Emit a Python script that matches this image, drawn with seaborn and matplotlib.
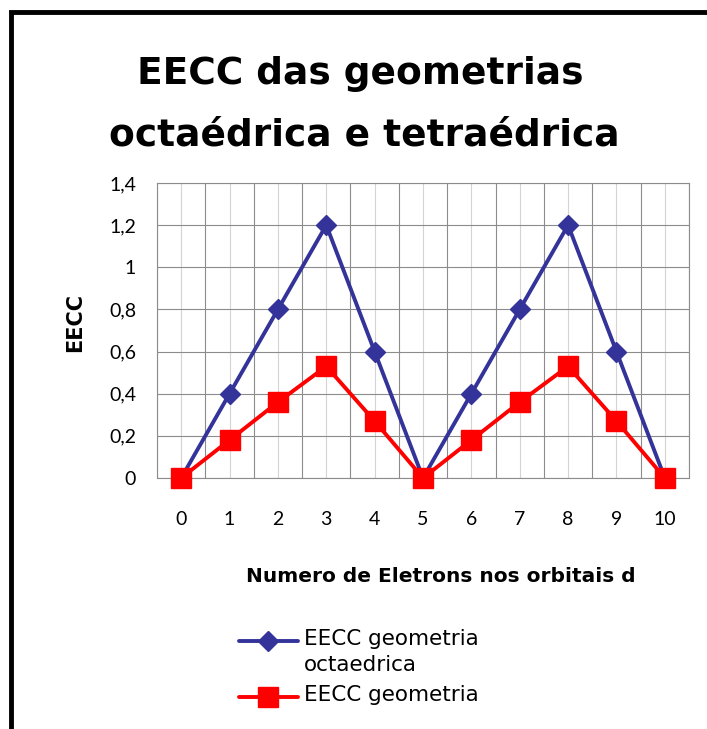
import matplotlib
matplotlib.use("Agg")
import matplotlib.pyplot as plt
from matplotlib.lines import Line2D
from matplotlib.patches import Rectangle
import seaborn as sns
import pandas as pd

# ---- data ----
electrons = [0, 1, 2, 3, 4, 5, 6, 7, 8, 9, 10]
eecc_octa = [0, 0.4, 0.8, 1.2, 0.6, 0, 0.4, 0.8, 1.2, 0.6, 0]
eecc_tetra = [0, 0.18, 0.36, 0.53, 0.27, 0, 0.18, 0.36, 0.53, 0.27, 0]
x_ticklabels = ["0", "1", "2", "3", "4", "5", "6", "7", "8", "9", "10"]
y_ticks = [0, 0.2, 0.4, 0.6, 0.8, 1.0, 1.2, 1.4]
y_ticklabels = ["0", "0,2", "0,4", "0,6", "0,8", "1", "1,2", "1,4"]
# visible legend labels (the second one is clipped by the chart edge in the original)
legend_labels = ["EECC geometria\noctaedrica", "EECC geometria"]

sns.set_theme(style="white")
plt.rcParams["font.family"] = ["Lato", "DejaVu Sans"]
plt.rcParams["text.color"] = "black"

W, H = 707, 729
DPI = 100
fig = plt.figure(figsize=(W / DPI, H / DPI), dpi=DPI)

def fx(px):
    return px / W

def fy(py):
    return 1 - py / H

ax = fig.add_axes([fx(157), fy(478), fx(689) - fx(157), fy(183) - fy(478)])

df = pd.DataFrame({"x": electrons, "octa": eecc_octa, "tetra": eecc_tetra})
blue = "#333399"
red = "#FF0000"

sns.lineplot(data=df, x="x", y="octa", ax=ax, color=blue, lw=2.8,
             marker="D", ms=10.5, mec=blue, mfc=blue, mew=1, clip_on=False, zorder=4)
sns.lineplot(data=df, x="x", y="tetra", ax=ax, color=red, lw=2.8,
             marker="s", ms=14, mec=red, mfc=red, mew=1, clip_on=False, zorder=5)

ax.set_xlim(-0.5, 10.5)
ax.set_ylim(0, 1.4)
ax.set_xticks(electrons)
ax.set_xticklabels(x_ticklabels)
ax.set_xticks([i - 0.5 for i in range(12)], minor=True)
ax.set_yticks(y_ticks)
ax.set_yticklabels(y_ticklabels)
ax.tick_params(axis="both", which="both", length=0, labelsize=14,
               colors="black", labelcolor="black")
ax.tick_params(axis="y", pad=15)
ax.tick_params(axis="x", pad=24)

ax.grid(False)
ax.xaxis.grid(True, which="major", color="#d4d4d4", lw=0.8)
ax.xaxis.grid(True, which="minor", color="#8c8c8c", lw=0.8)
ax.yaxis.grid(True, which="major", color="#8c8c8c", lw=0.8)
ax.set_axisbelow(True)
for s in ax.spines.values():
    s.set_color("#8c8c8c")
    s.set_linewidth(0.8)
ax.set_xlabel("")
ax.set_ylabel("")

bold_font = ["DejaVu Sans"]
# titles / labels
fig.text(fx(360), fy(74), "EECC das geometrias", ha="center", va="center",
         fontsize=27, fontweight="bold", family=bold_font, color="black")
fig.text(fx(364), fy(136), "octaédrica e tetraédrica", ha="center", va="center",
         fontsize=27, fontweight="bold", family=bold_font, color="black")
fig.text(fx(441), fy(577), "Numero de Eletrons nos orbitais d", ha="center",
         va="center", fontsize=14.5, fontweight="bold", family=bold_font, color="black")
fig.text(fx(75), fy(322), "EECC", ha="center", va="center", rotation=90,
         fontsize=15, fontweight="bold", family=bold_font, color="black")

# legend (drawn manually so the handle aligns with the first line of each label)
leg_y = [641, 697]
for yy, c, mk, ms, name in zip(leg_y, [blue, red], ["D", "s"], [10.5, 14], legend_labels):
    fig.add_artist(Line2D([fx(239), fx(298)], [fy(yy), fy(yy)], color=c, lw=2.8,
                          transform=fig.transFigure))
    fig.add_artist(Line2D([fx(268)], [fy(yy)], color=c, marker=mk, ms=ms, mfc=c,
                          mec=c, mew=1, transform=fig.transFigure))
    fig.text(fx(304), fy(yy - 12), name, ha="left", va="top", fontsize=15.5,
             linespacing=1.35, family=["DejaVu Sans"], color="black")

# outer black frame (partly outside the canvas)
fig.add_artist(Rectangle((fx(10.5), fy(760)), fx(760), fy(12) - fy(760),
                         transform=fig.transFigure, fill=False, ec="black", lw=3.5))

fig.savefig("out.png", dpi=DPI)
